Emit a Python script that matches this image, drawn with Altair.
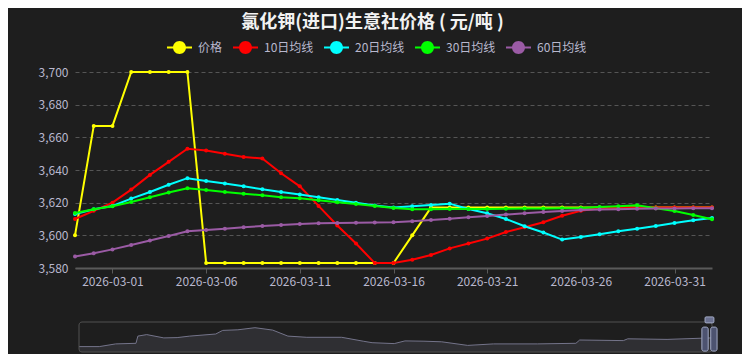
import altair as alt
import pandas as pd

FONT = "Noto Sans CJK SC"

dates = ["2026-02-27", "2026-02-28"] + [f"2026-03-{d:02d}" for d in range(1, 32)] + ["2026-04-01", "2026-04-02"]

price = [3600, 3667, 3667, 3700, 3700, 3700, 3700,
         3583, 3583, 3583, 3583, 3583, 3583, 3583, 3583, 3583, 3583, 3583,
         3600,
         3617, 3617, 3617, 3617, 3617, 3617, 3617, 3617, 3617, 3617, 3617, 3617, 3617, 3617, 3617, 3617]
ma10 = [3610, 3615, 3620, 3628, 3637, 3645, 3653, 3652, 3650, 3648,
        3647, 3638, 3630, 3618, 3606, 3595, 3583, 3583, 3585, 3588,
        3592, 3595, 3598, 3602, 3605, 3608, 3612, 3615, 3616.5, 3617,
        3617, 3617, 3617, 3617, 3617]
ma20 = [3613, 3616, 3618, 3622.5, 3626.5, 3631, 3635, 3633.3, 3631.7, 3630,
        3628.2, 3626.5, 3625, 3623.3, 3621.6, 3620, 3618.2, 3617, 3617.8, 3618.6,
        3619.4, 3616.1, 3613.5, 3610, 3605.6, 3601.7, 3597.4, 3599, 3600.6, 3602.5,
        3604.1, 3605.7, 3607.6, 3609.2, 3610.6]
ma30 = [3613.7, 3616, 3617.8, 3620.4, 3623.3, 3626.2, 3628.8, 3627.8, 3626.5, 3625.5,
        3624.5, 3623.3, 3622.7, 3621.5, 3620.2, 3619.2, 3618, 3616.7, 3616, 3616,
        3616.1, 3616.1, 3616.1, 3616.3, 3616.4, 3616.4, 3616.6, 3616.8, 3617.4, 3617.8,
        3618.4, 3616.6, 3614.9, 3612.5, 3609.8]
ma60 = [3587, 3589, 3591.4, 3594.1, 3596.8, 3599.6, 3602.5, 3603.3, 3604.1, 3605,
        3605.7, 3606.3, 3607, 3607.4, 3607.6, 3607.7, 3607.8, 3608, 3608.6, 3609.4,
        3610.2, 3611, 3611.9, 3612.7, 3613.5, 3614.3, 3614.9, 3615.5, 3615.8, 3616,
        3616.2, 3616.4, 3616.5, 3616.6, 3616.6]

series_names = ["价格", "10日均线", "20日均线", "30日均线", "60日均线"]
series_colors = ["#ffff00", "#ff0000", "#00ffff", "#00ff00", "#9b5ba5"]
y_ticks = [3580, 3600, 3620, 3640, 3660, 3680, 3700]
x_ticks = ["2026-03-01", "2026-03-06", "2026-03-11", "2026-03-16",
           "2026-03-21", "2026-03-26", "2026-03-31"]

# data-zoom slider overview (shadow of the long history), relative units
shadow_pos = [0.0, 0.032, 0.058, 0.09, 0.093, 0.107, 0.134, 0.155, 0.175, 0.216,
              0.227, 0.251, 0.278, 0.306, 0.33, 0.36, 0.415, 0.449, 0.463, 0.498,
              0.515, 0.545, 0.573, 0.614, 0.655, 0.724, 0.785, 0.791, 0.86, 0.867,
              0.929, 0.984, 1.0]
shadow_level = [0.18, 0.18, 0.27, 0.29, 0.53, 0.58, 0.47, 0.48, 0.53, 0.6,
                0.72, 0.74, 0.81, 0.73, 0.53, 0.49, 0.49, 0.36, 0.31, 0.28,
                0.37, 0.36, 0.34, 0.22, 0.27, 0.27, 0.29, 0.4, 0.38, 0.44,
                0.42, 0.46, 0.47]

rows = []
for name, vals in zip(series_names, [price, ma10, ma20, ma30, ma60]):
    for d, v in zip(dates, vals):
        rows.append({"date": d, "value": v, "series": name})
df = pd.DataFrame(rows)

LEGEND_PATH = ("M-1,-0.08H1V0.08H-1Z "
               "M0.52,0A0.52,0.52 0 1,1 -0.52,0A0.52,0.52 0 1,1 0.52,0Z")

x_enc = alt.X("date:O", sort=dates,
              scale=alt.Scale(type="point", padding=0),
              axis=alt.Axis(values=x_ticks, labelAngle=0, title=None, grid=False,
                            domainColor="#5a5a5a", domainWidth=2,
                            tickColor="#5a5a5a", tickSize=5, labelPadding=3))
y_enc = alt.Y("value:Q",
              scale=alt.Scale(domain=[3580, 3700], nice=False, zero=False),
              axis=alt.Axis(values=y_ticks, labelExpr="format(datum.value, ',')",
                            title=None, ticks=False,
                            domain=False, grid=True, gridDash=[4, 3],
                            gridColor="#555555", labelPadding=7))
color_enc = alt.Color(
    "series:N", scale=alt.Scale(domain=series_names, range=series_colors),
    legend=alt.Legend(orient="none", legendX=92, legendY=-37, direction="horizontal",
                      title=None, symbolType=LEGEND_PATH, symbolSize=625,
                      symbolStrokeWidth=0, symbolOpacity=1, labelColor="#b9b8ce",
                      labelFontSize=12, labelFont=FONT, labelOffset=6,
                      columnPadding=10, padding=0))

layers = []
for name in series_names:
    base = alt.Chart(df).transform_filter(alt.datum.series == name)
    pts = base.mark_point(filled=True, size=16, opacity=1).encode(
        x=x_enc, y=y_enc, color=color_enc)
    line = base.mark_line(strokeWidth=2).encode(x=x_enc, y=y_enc, color=color_enc)
    layers += [pts, line]
main = alt.layer(*layers)

sx_scale = alt.Scale(domain=[0, 1], range=[4, 637])
sy_scale = alt.Scale(domain=[0, 1], range=[280, 250])
slider_df = pd.DataFrame({"pos": shadow_pos, "level": shadow_level})
shadow = alt.Chart(slider_df).mark_area(
    color="#36363c", line={"color": "#74748a", "strokeWidth": 1}).encode(
    x=alt.X("pos:Q", scale=sx_scale, axis=None),
    y=alt.Y("level:Q", scale=sy_scale, axis=None))
box_df = pd.DataFrame({"a": [0], "b": [1], "c": [0], "d": [1]})
box = alt.Chart(box_df).mark_rect(fill="transparent", stroke="#505050",
                                  strokeWidth=1, cornerRadius=3).encode(
    x=alt.X("a:Q", scale=sx_scale, axis=None), x2="b:Q",
    y=alt.Y("c:Q", scale=sy_scale, axis=None), y2="d:Q")
handle_df = pd.DataFrame({"a": [0.984, 0.998], "b": [0.994, 1.008],
                          "c": [0.03, 0.03], "d": [0.83, 0.83]})
handles = alt.Chart(handle_df).mark_rect(fill="#4d5370", stroke="#a3abc6",
                                         strokeWidth=1, cornerRadius=2).encode(
    x=alt.X("a:Q", scale=sx_scale, axis=None), x2="b:Q",
    y=alt.Y("c:Q", scale=sy_scale, axis=None), y2="d:Q")
grip_df = pd.DataFrame({"a": [0.989], "b": [1.003], "c": [0.97], "d": [1.17]})
grip = alt.Chart(grip_df).mark_rect(fill="#6b7190", stroke="#a3abc6",
                                    strokeWidth=1, cornerRadius=1).encode(
    x=alt.X("a:Q", scale=sx_scale, axis=None), x2="b:Q",
    y=alt.Y("c:Q", scale=sy_scale, axis=None), y2="d:Q")
slider = alt.layer(shadow, box, handles, grip)

chart = alt.layer(main, slider).resolve_scale(
    x="independent", y="independent"
).properties(
    width=637, height=196,
    background="#1e1e1e",
    padding={"left": 67, "top": 64, "right": 30, "bottom": 86},
    autosize=alt.AutoSizeParams(type="none"),
    title=alt.TitleParams(
        text="氯化钾(进口)生意社价格 ( 元/吨 )", anchor="middle", frame="group",
        fontSize=18, fontWeight="bold", color="#f2f2f2", font=FONT,
        offset=3, dx=-21),
).configure_view(stroke=None).configure_axis(
    labelFont=FONT, labelFontSize=12, labelColor="#b9b8ce"
)

chart.save("out.html", embed_options={"renderer": "svg", "actions": False})
